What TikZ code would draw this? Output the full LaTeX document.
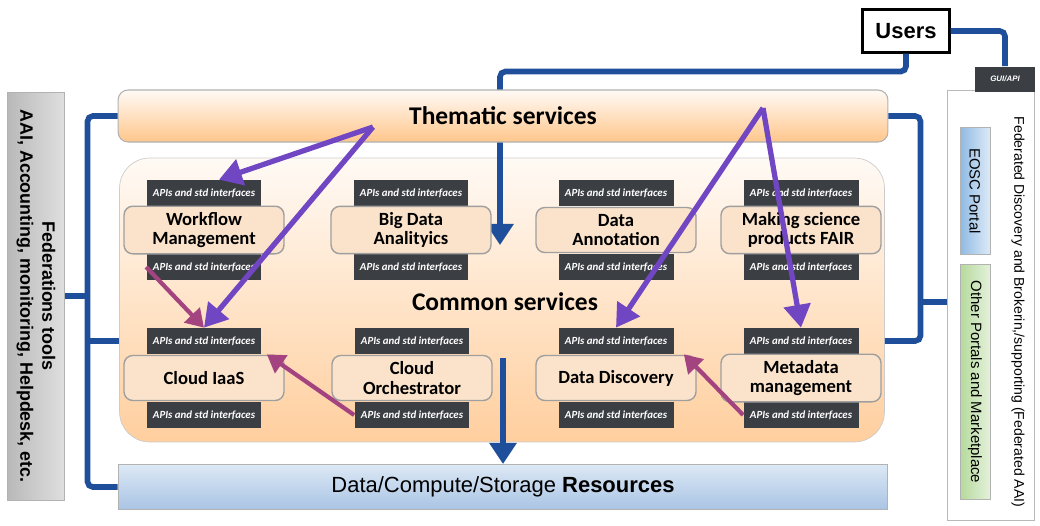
\documentclass[tikz,border=0pt]{standalone}
\usepackage{fontspec}
\setmainfont{Carlito}
\newfontfamily\arialfont{Liberation Sans}
\usetikzlibrary{arrows.meta,positioning}
\definecolor{busblue}{HTML}{1F4E9A}
\definecolor{purpleline}{HTML}{7046C2}
\definecolor{plumline}{HTML}{A3437F}
\definecolor{apigray}{HTML}{3B3E43}
\definecolor{peach}{HTML}{FBE3CB}
\definecolor{resdark}{HTML}{A9C4E4}
\definecolor{reslight}{HTML}{DCE8F5}
\definecolor{eoscdark}{HTML}{8FBAE3}
\definecolor{eosclight}{HTML}{DDEAF7}
\definecolor{otherdark}{HTML}{B5D99C}
\definecolor{otherlight}{HTML}{E4F1DA}

\begin{document}
\begin{tikzpicture}[x=0.02cm, y=-0.02cm,
  svc/.style={draw=gray!75, rounded corners=5pt, fill=peach, line width=0.8pt,
              minimum width=3.2cm, minimum height=0.9cm, align=center,
              font=\bfseries\fontsize{10.6}{11.2}\selectfont},
  api/.style={fill=apigray, minimum width=2.3cm, minimum height=0.52cm,
              inner sep=0pt, text=white,
              font=\bfseries\itshape\fontsize{6.2}{7}\selectfont},
  bar/.style={draw=gray!60, minimum width=15.4cm, line width=0.6pt},
  portal/.style={draw=gray!60, minimum width=0.6cm, line width=0.5pt},
  bus/.style={busblue, line width=3.2pt, rounded corners=3pt},
  bigarrow/.style={bus, -{Triangle[length=12pt,width=15pt]}},
  themarrow/.style={purpleline, line width=3pt, -{Triangle[length=13pt,width=15pt]}},
  usearrow/.style={plumline, line width=2.4pt, -{Triangle[length=10pt,width=12pt]}}]

  \useasboundingbox (0,0) rectangle (1040,525);

  % Federation tools (left)
  \node[draw=gray!60, left color=gray!55, right color=gray!25,
        minimum width=1.14cm, minimum height=8.16cm] (fed) at (36,296) {};
  \node[rotate=-90, align=center,
        font=\arialfont\bfseries\fontsize{10.2}{12.5}\selectfont] (fedtxt) at (fed.center)
    {Federations tools\\AAI, Accounting, monitoring, Helpdesk, etc.};

  % Common services panel
  \node[draw=gray!40, rounded corners=0.6cm, top color=white!96!orange,
        bottom color=orange!38!white, minimum width=15.3cm,
        minimum height=5.68cm] (common) at (502,300) {};

  % Users
  \node[draw, line width=1.2pt, fill=white, minimum width=1.74cm, minimum height=0.86cm,
        font=\arialfont\bfseries\fontsize{12.5}{14}\selectfont] (users) at (906,31) {Users};
  \coordinate (bdin) at (500,245);
  \draw[bigarrow] (users.south) -- ++(0,18) -| (bdin);

  % Thematic services
  \node[bar, rounded corners=0.2cm, top color=orange!4!white, bottom color=orange!45!white,
        minimum height=1.04cm, font=\bfseries\fontsize{14.5}{16}\selectfont]
    (them) at (503,116) {Thematic services};

  % Moduly uslug
  \foreach \nm/\px/\py/\txt in {wf/204/230/{Workflow\\Management},
                                bd/411/230/{Big Data\\Analityics},
                                ann/616/230/{Data\\Annotation},
                                fair/801/230/{Making science\\products FAIR},
                                iaas/204/378/{Cloud IaaS},
                                orch/412/378/{Cloud\\Orchestrator},
                                disc/616/378/{Data Discovery},
                                meta/801/378/{Metadata\\management}} {
    \node[api] (\nm-t) at (\px,\py-37) {APIs and std interfaces};
    \node[api] (\nm-b) at (\px,\py+37) {APIs and std interfaces};
    \node[svc] (\nm) at (\px,\py) {\txt};
  }

  \node[font=\bfseries\fontsize{14.5}{16}\selectfont] (cmn) at (505,302) {Common services};

  % Resources
  \node[bar, top color=reslight, bottom color=resdark,
        minimum height=0.9cm, font=\arialfont\fontsize{12.5}{14}\selectfont]
    (res) at (503,487) {Data/Compute/Storage \textbf{Resources}};
  \coordinate (resin) at (503,358);
  \draw[bigarrow] (resin) -- (res.north);

  % Right panel
  \node[draw=gray!55, fill=white, minimum width=1.74cm, minimum height=8.6cm] (rpanel) at (991,305) {};
  \node[rotate=-90, font=\arialfont\fontsize{8}{10}\selectfont] (rtxt) at (1018,312)
    {Federated Discovery and Brokerin,/supporting (Federated AAI)};
  \node[portal, minimum height=2.54cm, left color=eoscdark, right color=eosclight]
    (eosc) at (975,191) {};
  \node[rotate=-90, font=\arialfont\fontsize{8.5}{10}\selectfont] at (eosc.center) {EOSC Portal};
  \node[portal, minimum height=4.7cm, left color=otherdark, right color=otherlight]
    (other) at (975,382) {};
  \node[rotate=-90, font=\arialfont\fontsize{8.5}{10}\selectfont] at (other.center) {Other Portals and Marketplace};
  \node[fill=apigray, minimum width=1.2cm, minimum height=0.5cm, inner sep=0pt, text=white,
        font=\arialfont\bfseries\itshape\fontsize{4.5}{5}\selectfont] (gui) at (1005,79) {GUI/API};

  % Polaczenia
  \draw[bus] (them.west) -- ++(-30,0) coordinate (lb) |- (res.west);
  \draw[bus] (fed.east) -- (fed.east -| lb);
  \draw[bus] (lb |- iaas-t) -- (iaas-t -| common.west);
  \draw[bus] (them.east) -- ++(32,0) coordinate (rb) |- (meta-t -| common.east);
  \draw[bus] (rb |- cmn) -- (cmn -| rpanel.west);
  \draw[bus] (users.east) -| (gui.north);

  % Strzalki tematyczne
  \coordinate (tl) at (373,127);
  \coordinate (tr) at (763,108);
  \draw[themarrow] (tl) -- ([xshift=0.3cm]wf-t.north);
  \draw[themarrow] (tl) -- (iaas-t.north);
  \draw[themarrow] (tr) -- (disc-t.north);
  \draw[themarrow] (tr) -- (meta-t.north);

  \draw[usearrow] (wf-b.west) -- (iaas-t.north);
  \draw[usearrow] (orch-b.west) -- ([xshift=0.1cm]iaas-t.south east);
  \draw[usearrow] (meta-b.west) -- ([xshift=0.2cm]disc-t.south east);
\end{tikzpicture}
\end{document}
